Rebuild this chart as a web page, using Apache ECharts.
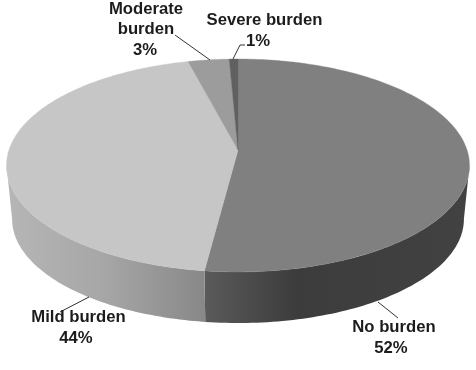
<!DOCTYPE html>
<html>
<head>
<meta charset="utf-8">
<style>html,body{margin:0;padding:0;background:#fff}#c{width:476px;height:370px}</style>
<script src="https://cdn.jsdelivr.net/npm/echarts@6/dist/echarts.min.js"></script>
</head>
<body>
<div id="c"></div>
<script>
const categories = ['No burden', 'Mild burden', 'Moderate burden', 'Severe burden'];
const values = [52.0, 44.0, 3.3, 0.7];
const percentLabels = ['52%', '44%', '3%', '1%'];
const topColors = ['#808080', '#c6c6c6', '#9c9c9c', '#606060'];
const wallStops = [
  [[0, '#5a5a5a'], [0.35, '#3c3c3c'], [1, '#424242']],
  [[0, '#b6b6b6'], [0.5, '#a6a6a6'], [1, '#888888']],
  [[0, '#777777'], [1, '#777777']],
  [[0, '#444444'], [1, '#444444']]
];
const wallRanges = [[205, 470], [7, 205], [188, 231], [231, 238]];
const nameLines = [['No burden'], ['Mild burden'], ['Moderate', 'burden'], ['Severe burden']];
const nameAnchors = [[[394, 327]], [[78.5, 317]], [[146, 9], [146, 29]], [[264.5, 20]]];
const pctAnchors = [[391, 348], [76, 338], [145, 50], [258, 41]];
const leaders = [
  [[378, 302], [398, 318]],
  [[89, 297], [60, 312]],
  [[210, 60], [175, 35]],
  [[233, 59], [240, 45], [245, 45]]
];

// perspective view of the disc
const view = { cx: 238, cy: 150, a: 229, b: 104.2, k: 0.1455, shrink: 0.976, baseY: 204 };
function topPt(theta) {
  const u = Math.sin(theta), v = Math.cos(theta), w = 1 + view.k * v;
  return [view.cx + view.a * u / w, view.cy - view.b * v / w];
}
function basePt(theta) {
  const p = topPt(theta);
  return [view.cx + (p[0] - view.cx) * view.shrink, view.baseY + (p[1] - view.cy) * view.shrink];
}
function arc(fn, t0, t1) {
  const n = Math.max(2, Math.ceil(Math.abs(t1 - t0) / 0.02));
  const pts = [];
  for (let i = 0; i <= n; i++) pts.push(fn(t0 + (t1 - t0) * i / n));
  return pts;
}
const total = values.reduce((s, v) => s + v, 0);
const starts = [];
values.reduce((acc, v, i) => { starts[i] = acc; return acc + v; }, 0);
const toAngle = v => v / total * Math.PI * 2;
// the wall is only visible between the two tangent points of the disc
const frontFrom = Math.acos(-view.k), frontTo = Math.PI * 2 - frontFrom;

const font = { fontFamily: '"Liberation Sans", Arial, sans-serif', fontSize: 16.7, fontWeight: 'bold', fill: '#1c1c1c' };
function textEl(t, p) {
  return { type: 'text', z2: 30, style: Object.assign({ text: t, x: p[0], y: p[1], align: 'center', verticalAlign: 'middle' }, font) };
}

function renderWall(params, api) {
  const i = params.dataIndex;
  const a0 = toAngle(starts[i]), a1 = a0 + toAngle(api.value(0));
  const t0 = Math.max(a0, frontFrom), t1 = Math.min(a1, frontTo);
  if (t1 <= t0) return { type: 'group', children: [] };
  const points = arc(topPt, t0, t1).concat(arc(basePt, t1, t0));
  const r = wallRanges[i];
  return {
    type: 'polygon', z2: 1,
    shape: { points },
    style: {
      fill: new echarts.graphic.LinearGradient(r[0], 0, r[1], 0,
        wallStops[i].map(s => ({ offset: s[0], color: s[1] })), true),
      stroke: null
    }
  };
}
function renderTop(params, api) {
  const i = params.dataIndex;
  const t0 = toAngle(starts[i]), t1 = t0 + toAngle(api.value(0));
  const points = [[view.cx, view.cy]].concat(arc(topPt, t0, t1));
  return { type: 'polygon', z2: 10, shape: { points }, style: { fill: topColors[i], stroke: topColors[i], lineWidth: 0.4 } };
}
function renderLabel(params) {
  const i = params.dataIndex;
  const children = [{
    type: 'polyline', z2: 20,
    shape: { points: leaders[i] },
    style: { fill: null, stroke: '#333', lineWidth: 1 }
  }];
  nameLines[i].forEach((t, j) => children.push(textEl(t, nameAnchors[i][j])));
  children.push(textEl(percentLabels[i], pctAnchors[i]));
  return { type: 'group', children };
}

const seriesData = categories.map((name, i) => ({ name, value: [values[i]] }));
const chart = echarts.init(document.getElementById('c'), null, { renderer: 'canvas' });
chart.setOption({
  animation: false,
  backgroundColor: '#fff',
  series: [
    { type: 'custom', coordinateSystem: 'none', renderItem: renderWall, data: seriesData, z: 1, silent: true },
    { type: 'custom', coordinateSystem: 'none', renderItem: renderTop, data: seriesData, z: 2, silent: true },
    { type: 'custom', coordinateSystem: 'none', renderItem: renderLabel, data: seriesData, z: 3, silent: true }
  ]
});
</script>
</body>
</html>
